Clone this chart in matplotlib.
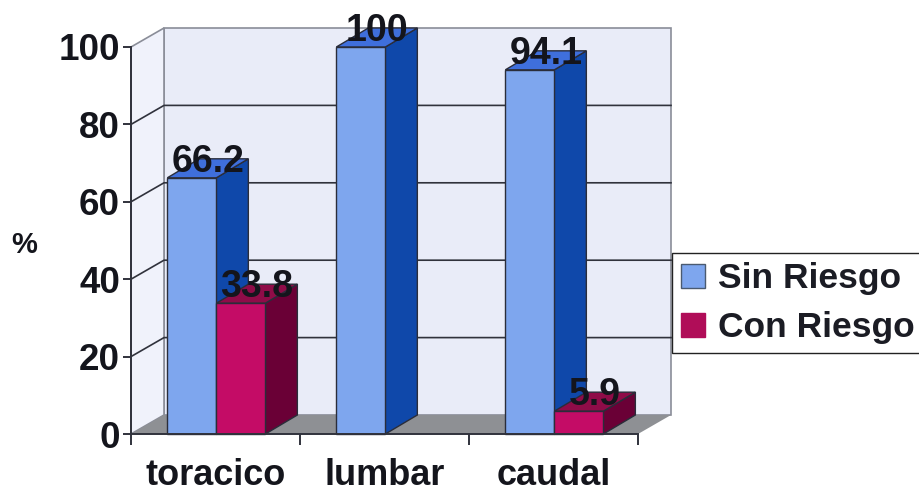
import matplotlib
matplotlib.use('Agg')
import matplotlib.pyplot as plt
from matplotlib.patches import Patch

categories = ['toracico', 'lumbar', 'caudal']
sin_riesgo = [66.2, 100, 94.1]
con_riesgo = [33.8, 0, 5.9]
value_ticks = [0, 20, 40, 60, 80, 100]
series_names = ['Sin Riesgo', 'Con Riesgo']

W, H = 920, 492
plt.rcParams['font.family'] = ['Liberation Sans', 'DejaVu Sans']
plt.rcParams['font.weight'] = 'bold'

fig = plt.figure(figsize=(W / 100, H / 100), dpi=100)
ax = fig.add_axes([131 / W, 1 - 434 / H, 507 / W, 387 / H])
ax.set_xlim(0, 3)
ax.set_ylim(0, 100)
ax.patch.set_visible(False)

# fake 3d depth, in data units
dx = 33 / 169
dy = 19 / 3.87
bar_dx = 32 / 169
bar_w = 0.29
bar_start = 0.215

edge = '#2a2d3a'
wall_back = '#e9ecf8'
wall_side = '#f0f2fb'
floor = '#8e9094'

# walls and floor
ax.fill([dx, 3 + dx, 3 + dx, dx], [dy, dy, 100 + dy, 100 + dy], fc=wall_back, ec='#8a8d98', lw=1.2, zorder=0.1, clip_on=False)
ax.fill([0, dx, dx, 0], [0, dy, 100 + dy, 100], fc=wall_side, ec='#8a8d98', lw=1.2, zorder=0.1, clip_on=False)
ax.fill([0, 3, 3 + dx, dx], [0, 0, dy, dy], fc=floor, ec='none', zorder=0.2, clip_on=False)

# grid lines run along the side wall and then the back wall
for v in value_ticks[1:-1]:
    ax.plot([0, dx, 3 + dx], [v, v + dy, v + dy], color='#30323c', lw=1.2, zorder=0.3, clip_on=False)


def draw_bars(values, offset, front, side, top):
    xs = [i + offset for i in range(len(values))]
    for x, v in zip(xs, values):
        if v == 0:
            continue
        ax.fill([x + bar_w, x + bar_w + bar_dx, x + bar_w + bar_dx, x + bar_w], [0, dy, v + dy, v], fc=side, ec=edge, lw=1, zorder=1, clip_on=False)
        ax.fill([x, x + bar_w, x + bar_w + bar_dx, x + bar_dx], [v, v, v + dy, v + dy], fc=top, ec=edge, lw=1, zorder=1, clip_on=False)
        ax.bar(x, v, bar_w, align='edge', color=front, edgecolor=edge, lw=1, zorder=1, clip_on=False)
        ax.text(x + bar_w / 2 + bar_dx / 2, v + dy - 0.8, '%g' % v, ha='center', va='center', fontsize=27, color='#14151c', zorder=5, clip_on=False)


draw_bars(sin_riesgo, bar_start, '#7ea6ee', '#0f48aa', '#3f6fdc')
draw_bars(con_riesgo, bar_start + bar_w, '#c40c66', '#6a0036', '#8f0c48')

for s in ['top', 'right']:
    ax.spines[s].set_visible(False)
for s in ['left', 'bottom']:
    ax.spines[s].set_color('#30323c')
    ax.spines[s].set_linewidth(1.4)

ax.set_yticks(value_ticks)
ax.tick_params(axis='y', length=6, width=1.4, color='#30323c', labelsize=26.5, pad=2, labelcolor='#14151c')
ax.set_xticks([0, 1, 2, 3])
ax.set_xticklabels([])
ax.set_xticks([0.5, 1.5, 2.5], labels=categories, minor=True)
ax.tick_params(axis='x', which='major', length=8, width=1.4, color='#30323c')
ax.tick_params(axis='x', which='minor', length=0, labelsize=26, pad=17, labelcolor='#14151c')

fig.text(24 / W, 1 - 245 / H, '%', ha='center', va='center', fontsize=21, color='#14151c')

handles = [Patch(fc='#7ea6ee', ec='#4a5a70', lw=1), Patch(fc='#b00d58', ec='#b00d58', lw=1)]
fig.legend(handles, series_names, loc='upper left', bbox_to_anchor=(672 / W, 1 - 253 / H), bbox_transform=fig.transFigure,
           fontsize=25.5, frameon=True, fancybox=False, edgecolor='#222222', framealpha=1, handlelength=0.66, handleheight=0.66,
           handletextpad=0.38, borderpad=0.26, labelspacing=0.45, borderaxespad=0, labelcolor='#1b1c24')

fig.savefig('out.png', dpi=100)
